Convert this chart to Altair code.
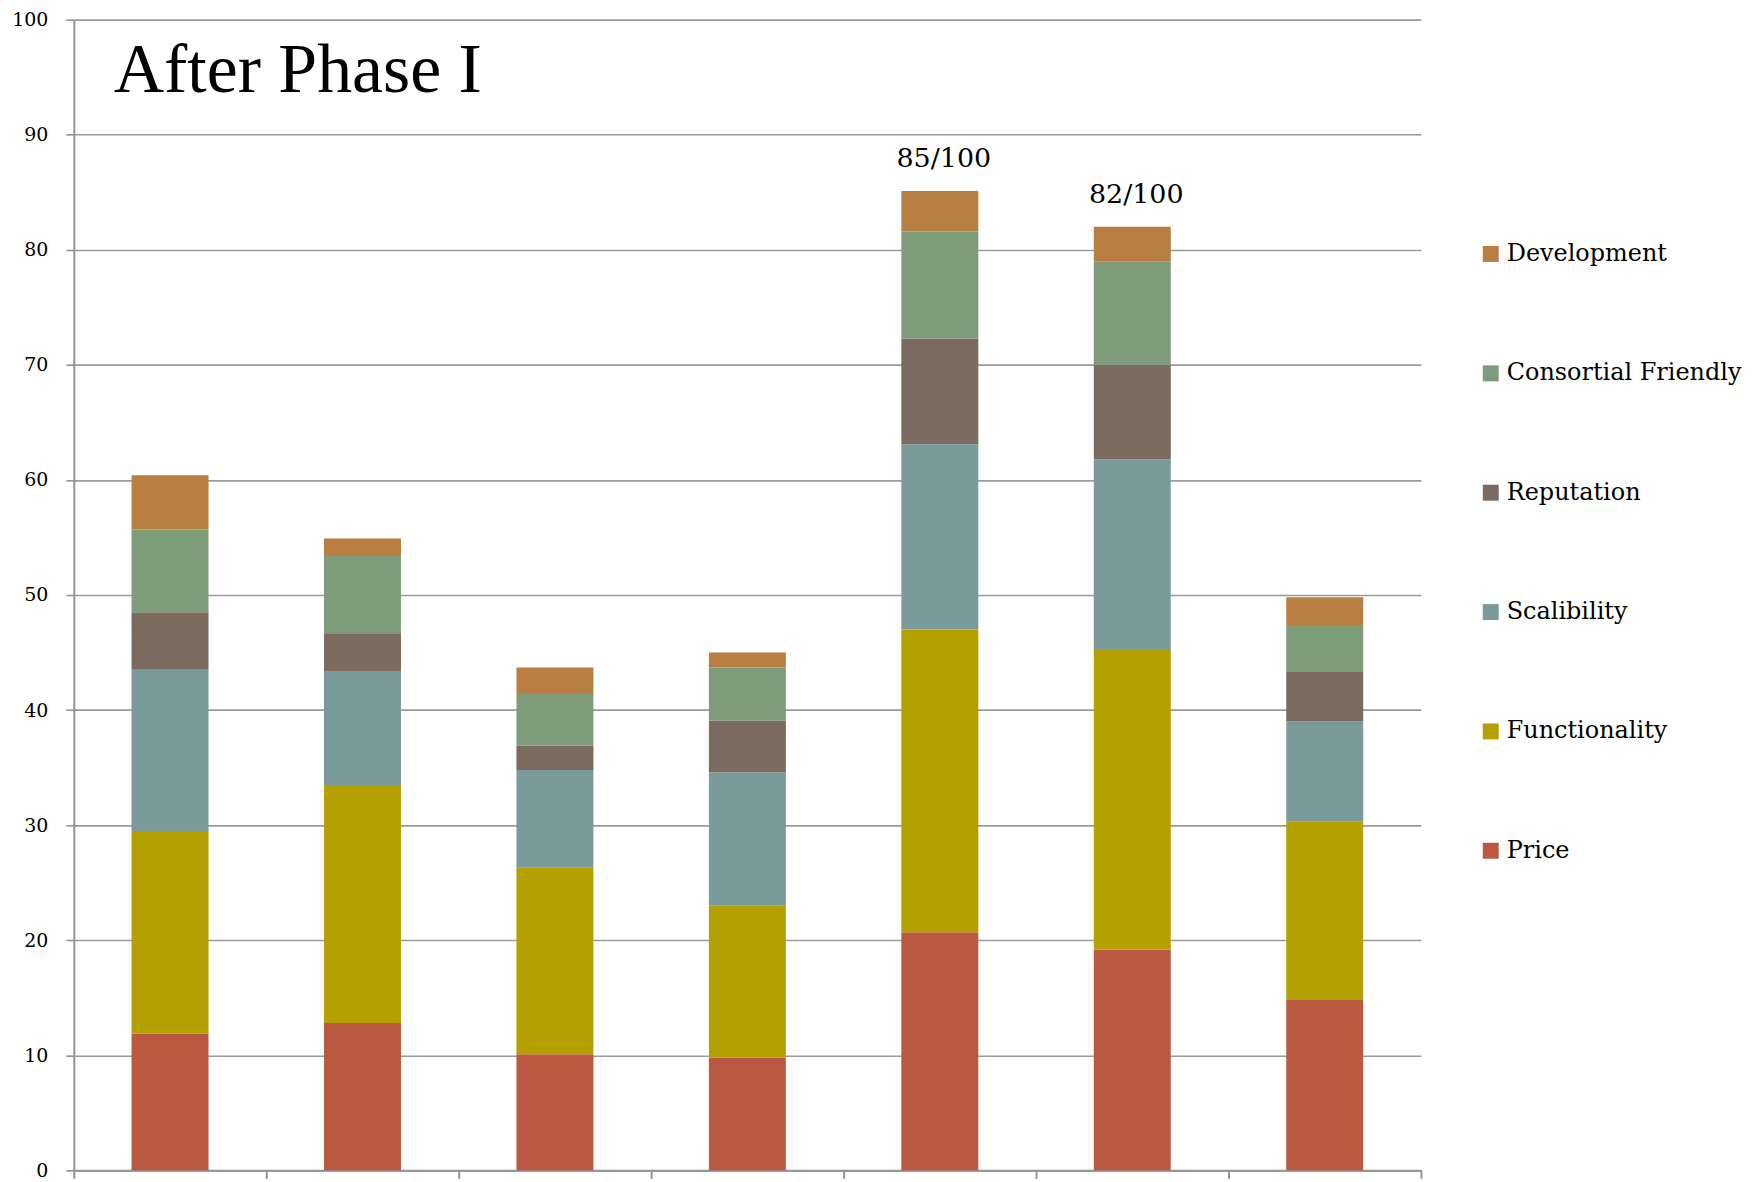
import altair as alt
import pandas as pd

vendors = ["V1", "V2", "V3", "V4", "V5", "V6", "V7"]
price = [11.9, 12.8, 10.1, 9.8, 20.7, 19.2, 14.8]
functionality = [17.6, 20.6, 16.2, 13.2, 26.3, 26.1, 15.5]
scalibility = [14.0, 10.0, 8.5, 11.6, 16.1, 16.5, 8.7]
reputation = [5.0, 3.2, 2.1, 4.5, 9.2, 8.2, 4.3]
consortial = [7.2, 6.8, 4.5, 4.6, 9.3, 9.0, 4.1]
development = [4.7, 1.5, 2.3, 1.3, 3.5, 3.0, 2.4]
labels = ["", "", "", "", "85/100", "82/100", ""]

series = [
    ("Price", price, "#BA5942"),
    ("Functionality", functionality, "#B5A001"),
    ("Scalibility", scalibility, "#7A9A9B"),
    ("Reputation", reputation, "#7B6B5F"),
    ("Consortial Friendly", consortial, "#7F9C7A"),
    ("Development", development, "#B97E41"),
]

rows = []
for rank, (name, vals, _) in enumerate(series):
    for v, val in zip(vendors, vals):
        rows.append({"vendor": v, "criterion": name, "value": val, "rank": rank})
df = pd.DataFrame(rows)

tot = pd.DataFrame({
    "vendor": vendors,
    "total": [sum(s[1][i] for s in series) for i in range(len(vendors))],
    "label": labels,
})

legend_domain = [s[0] for s in reversed(series)]
legend_range = [s[2] for s in reversed(series)]

serif = "DejaVu Serif"

x_enc = alt.X(
    "vendor:N",
    sort=vendors,
    scale=alt.Scale(paddingInner=0, paddingOuter=0),
    axis=alt.Axis(
        labels=False, title=None, ticks=True, tickBand="extent", tickSize=8,
        tickColor="#939393", tickWidth=2, domainColor="#939393", domainWidth=2,
        grid=False,
    ),
)

bars = alt.Chart(df).mark_bar(strokeWidth=0, width={"band": 0.4}).encode(
    x=x_enc,
    y=alt.Y(
        "value:Q",
        stack="zero",
        scale=alt.Scale(domain=[0, 100], nice=False),
        axis=alt.Axis(
            values=list(range(0, 101, 10)), title=None, grid=True,
            gridColor="#9a9a9a", gridWidth=1.6, tickSize=8, tickColor="#939393",
            tickWidth=1.6, domainColor="#939393", domainWidth=2,
            labelFont=serif, labelFontSize=19, labelColor="#000000",
            labelPadding=18,
        ),
    ),
    color=alt.Color(
        "criterion:N",
        scale=alt.Scale(domain=legend_domain, range=legend_range),
        legend=alt.Legend(
            title=None, orient="none", legendX=1409, legendY=223,
            symbolType="square", symbolSize=256, symbolStrokeWidth=0,
            symbolOpacity=1, labelFont=serif, labelFontSize=24,
            labelColor="#000000", rowPadding=95.7, labelOffset=4, padding=0,
            labelLimit=400,
        ),
    ),
    order=alt.Order("rank:Q", sort="ascending"),
)

ann = alt.Chart(tot).mark_text(
    font=serif, fontSize=27, baseline="alphabetic", dy=-24, dx=4, color="#000000"
).encode(
    x=alt.X("vendor:N", sort=vendors),
    y=alt.Y("total:Q"),
    text="label:N",
)

title = alt.Chart(pd.DataFrame({"t": ["After Phase I"]})).mark_text(
    font="Liberation Serif", fontSize=70, align="left", baseline="alphabetic",
    color="#000000",
).encode(x=alt.value(40), y=alt.value(73), text="t:N")

chart = alt.layer(bars, ann, title).properties(
    width=1351, height=1154,
    background="#ffffff",
    autosize=alt.AutoSizeParams(type="none"),
    padding={"left": 66, "top": 10, "right": 330, "bottom": 10},
).configure_view(strokeWidth=0, stroke="transparent")

chart.save("out.html", embed_options={"renderer": "svg", "actions": False})
